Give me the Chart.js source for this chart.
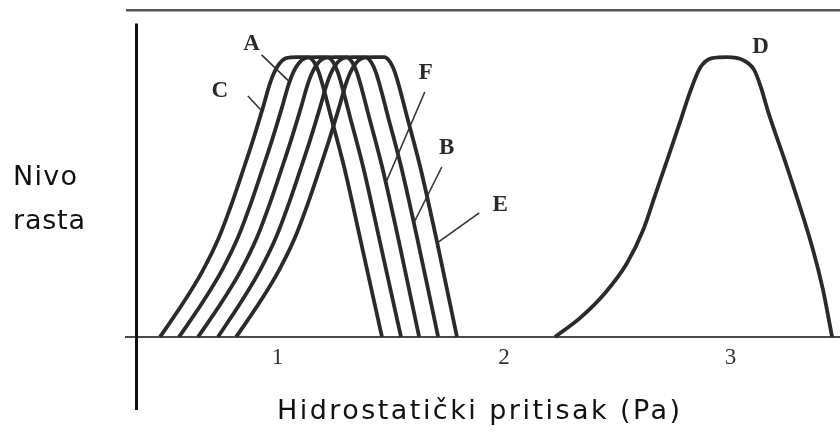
<!DOCTYPE html>
<html>
<head>
<meta charset="utf-8">
<script src="https://cdn.jsdelivr.net/npm/chart.js@4.4.1/dist/chart.umd.min.js"></script>
<style>
  html, body { margin: 0; padding: 0; background: #fff; }
</style>
</head>
<body>
<canvas id="growth" width="840" height="432"></canvas>
<script>
// growth level (0..1) against pressure; the five left curves were read at the same heights
var levels = [0, 0.121, 0.239, 0.357, 0.479, 0.596, 0.704, 0.821, 0.907, 0.964, 0.996, 1, 1, 0.982, 0.943, 0.786, 0.607, 0.336, 0];
var xC = [0.481, 0.583, 0.671, 0.742, 0.799, 0.848, 0.892, 0.936, 0.967, 0.998, 1.038, 1.086, 1.135, 1.161, 1.183, 1.236, 1.294, 1.369, 1.461];
var xA = [0.565, 0.667, 0.755, 0.826, 0.883, 0.932, 0.976, 1.020, 1.051, 1.082, 1.122, 1.170, 1.219, 1.245, 1.267, 1.320, 1.378, 1.453, 1.545];
var xF = [0.649, 0.751, 0.839, 0.910, 0.967, 1.016, 1.060, 1.104, 1.135, 1.166, 1.206, 1.254, 1.303, 1.329, 1.351, 1.404, 1.462, 1.537, 1.625];
var xB = [0.737, 0.836, 0.923, 0.994, 1.051, 1.100, 1.144, 1.188, 1.219, 1.250, 1.290, 1.338, 1.387, 1.413, 1.435, 1.488, 1.546, 1.621, 1.709];
var xE = [0.817, 0.919, 1.007, 1.078, 1.135, 1.184, 1.228, 1.272, 1.303, 1.334, 1.374, 1.422, 1.471, 1.497, 1.519, 1.572, 1.630, 1.705, 1.792];
var xD = [2.225, 2.336, 2.446, 2.543, 2.614, 2.667, 2.720, 2.777, 2.821, 2.865, 2.918, 2.985, 3.055, 3.104, 3.135, 3.166, 3.249, 3.364, 3.408, 3.448];
var yD = [0, 0.068, 0.157, 0.264, 0.382, 0.507, 0.632, 0.768, 0.875, 0.961, 0.996, 1, 0.989, 0.954, 0.889, 0.804, 0.607, 0.311, 0.168, 0];
var xTicks = [1, 2, 3];

var yTitle = ['Nivo', 'rasta'];
var xTitle = 'Hidrostatički pritisak (Pa)';

var series = [
  { name: 'C', xs: xC, ys: levels },
  { name: 'A', xs: xA, ys: levels },
  { name: 'F', xs: xF, ys: levels },
  { name: 'B', xs: xB, ys: levels },
  { name: 'E', xs: xE, ys: levels },
  { name: 'D', xs: xD, ys: yD }
];

// letter tags: which side of the curve, at what height, then pixel offsets of leader end and letter
var tags = [
  { name: 'C', side: 'rise', level: 0.807, lead: [-14, -15], text: [-42, -20] },
  { name: 'A', side: 'rise', level: 0.911, lead: [-28, -27], text: [-38, -38] },
  { name: 'F', side: 'fall', level: 0.55,  lead: [39, -91],  text: [40, -110] },
  { name: 'B', side: 'fall', level: 0.407, lead: [28, -56],  text: [33, -75] },
  { name: 'E', side: 'fall', level: 0.336, lead: [42, -30],  text: [63, -38] },
  { name: 'D', side: 'fall', level: 0.99,  lead: null,       text: [19, -13] }
];

var X_MIN = 0.331, X_MAX = 3.483, Y_MIN = -0.261, Y_MAX = 1.168;
var AXIS_AT = 0.375, AXIS_TOP = 1.12;

function findSeries(name) {
  return series.filter(function (s) { return s.name === name; })[0];
}

// x where a curve crosses a given level on its rising or falling side
function crossAt(s, level, side) {
  var ys = s.ys, xs = s.xs, i;
  var peak = ys.indexOf(Math.max.apply(null, ys));
  if (side === 'rise') {
    for (i = 0; i < peak; i++) {
      if (ys[i] <= level && ys[i + 1] >= level)
        return xs[i] + (xs[i + 1] - xs[i]) * (level - ys[i]) / (ys[i + 1] - ys[i]);
    }
  } else {
    for (i = ys.length - 1; i > peak; i--) {
      if (ys[i] <= level && ys[i - 1] >= level)
        return xs[i] + (xs[i - 1] - xs[i]) * (level - ys[i]) / (ys[i - 1] - ys[i]);
    }
  }
  return xs[peak];
}

function spaced(ctx, text, x, y, width) {
  ctx.letterSpacing = '0px';
  var w = ctx.measureText(text).width;
  var extra = (width - w) / (text.length - 1);
  ctx.letterSpacing = extra.toFixed(2) + 'px';
  ctx.fillText(text, x, y);
  ctx.letterSpacing = '0px';
}

var decorations = {
  id: 'decorations',
  afterDatasetsDraw: function (chart) {
    var ctx = chart.ctx, xs = chart.scales.x, ys = chart.scales.y;
    ctx.save();

    // vertical axis
    var ax = Math.round(xs.getPixelForValue(AXIS_AT)) + 0.5;
    ctx.strokeStyle = '#111';
    ctx.lineWidth = 3;
    ctx.beginPath();
    ctx.moveTo(ax, ys.getPixelForValue(AXIS_TOP));
    ctx.lineTo(ax, chart.chartArea.bottom);
    ctx.stroke();

    // curve letters and leader lines
    ctx.strokeStyle = '#333';
    ctx.lineWidth = 1.6;
    ctx.fillStyle = '#2a2a2a';
    ctx.font = 'bold 23px "Liberation Serif"';
    ctx.textAlign = 'center';
    ctx.textBaseline = 'middle';
    tags.forEach(function (t) {
      var s = findSeries(t.name);
      var px = xs.getPixelForValue(crossAt(s, t.level, t.side));
      var py = ys.getPixelForValue(t.level);
      if (t.lead) {
        ctx.beginPath();
        ctx.moveTo(px, py);
        ctx.lineTo(px + t.lead[0], py + t.lead[1]);
        ctx.stroke();
      }
      ctx.fillText(t.name, px + t.text[0], py + t.text[1]);
    });

    // axis titles
    ctx.fillStyle = '#111';
    ctx.font = '27px "DejaVu Sans"';
    ctx.textAlign = 'left';
    ctx.textBaseline = 'alphabetic';
    spaced(ctx, yTitle[0], 13, 185, 64);
    spaced(ctx, yTitle[1], 13, 229, 72);
    spaced(ctx, xTitle, 277, 419, 403);

    ctx.restore();
  }
};

new Chart(document.getElementById('growth'), {
  type: 'line',
  data: {
    datasets: series.map(function (s) {
      return {
        label: s.name,
        data: s.xs.map(function (x, i) { return { x: x, y: s.ys[i] }; }),
        borderColor: '#2a2a2a',
        borderWidth: 3.8,
        pointRadius: 0,
        fill: false,
        cubicInterpolationMode: 'monotone'
      };
    })
  },
  options: {
    responsive: false,
    animation: false,
    devicePixelRatio: 1,
    layout: { padding: { left: 126, right: 0, top: 10, bottom: 22 } },
    plugins: { legend: { display: false }, tooltip: { enabled: false } },
    scales: {
      x: {
        type: 'linear',
        min: X_MIN,
        max: X_MAX,
        position: { y: 0 },
        grid: { display: false, drawTicks: false },
        border: { display: true, color: '#4a4a4a', width: 2 },
        ticks: { color: '#333', padding: 7, font: { family: 'Liberation Serif', size: 23 } },
        afterBuildTicks: function (scale) {
          scale.ticks = xTicks.map(function (v) { return { value: v }; });
        }
      },
      y: {
        type: 'linear',
        min: Y_MIN,
        max: Y_MAX,
        position: { x: AXIS_AT },
        border: { display: false },
        grid: { color: '#555', lineWidth: 2.5, drawTicks: false },
        ticks: { display: false },
        afterBuildTicks: function (scale) {
          scale.ticks = [{ value: Y_MAX }];
        }
      }
    }
  },
  plugins: [decorations]
});
</script>
</body>
</html>
